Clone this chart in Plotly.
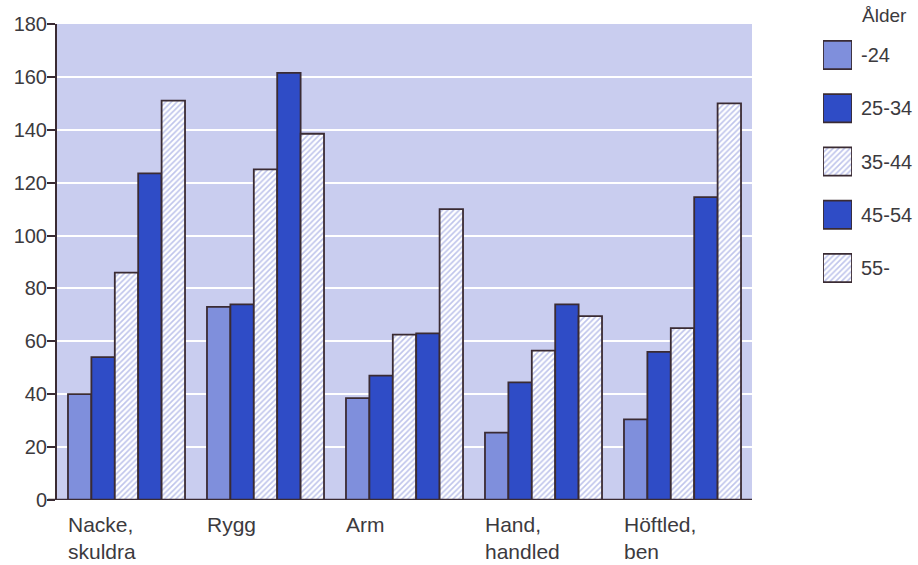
import plotly.graph_objects as go

# Data
categories = ['Nacke,<br>skuldra', 'Rygg', 'Arm', 'Hand,<br>handled', 'Höftled,<br>ben']
age_groups = ['-24', '25-34', '35-44', '45-54', '55-']

v_24 = [40, 73, 38.5, 25.5, 30.5]
v_25_34 = [54, 74, 47, 44.5, 56]
v_35_44 = [86, 125, 62.5, 56.5, 65]
v_45_54 = [123.5, 161.5, 63, 74, 114.5]
v_55 = [151, 138.5, 110, 69.5, 150]

series = [v_24, v_25_34, v_35_44, v_45_54, v_55]

y_ticks = list(range(0, 181, 20))

# styles
outline = '#3a2b33'
light_blue = '#7f8fdc'
strong_blue = '#2f4cc6'
hatch_blue = '#7f8ad8'
bg = '#c9cdef'
text_col = '#3c3a3e'
font_family = 'Liberation Sans, Arial, sans-serif'
fs = 20

hatch = dict(shape='/', fgcolor=hatch_blue, bgcolor='white', size=4, solidity=0.4)
styles = [
    dict(color=light_blue),
    dict(color=strong_blue),
    dict(color='white', pattern=hatch),
    dict(color=strong_blue),
    dict(color='white', pattern=hatch),
]

W, H = 918, 565
ml, mr, mt, mb = 57, 60, 24, 65
pw = W - ml - mr
ph = H - mt - mb

fig = go.Figure()

x_idx = list(range(len(categories)))
for name, vals, st in zip(age_groups, series, styles):
    fig.add_trace(go.Bar(
        x=x_idx, y=vals, name=name,
        marker=dict(line=dict(color=outline, width=1.8), **st),
        showlegend=False,
    ))

# legend swatches as bars on a small side axis, labels are its tick labels
for name, st in zip(age_groups, styles):
    fig.add_trace(go.Bar(
        x=[1], y=[name], orientation='h', width=0.53,
        xaxis='x2', yaxis='y2',
        marker=dict(line=dict(color=outline, width=1.8), **st),
        showlegend=False, hoverinfo='skip',
    ))

# category labels, left aligned under each group
for i, lab in enumerate(categories):
    fig.add_annotation(
        x=i, y=0, xref='x', yref='paper', text=lab,
        xanchor='left', yanchor='top', align='left',
        xshift=-61, yshift=-11, showarrow=False,
        font=dict(size=21, color=text_col, family=font_family),
    )

fig.add_annotation(
    x=(860 - ml) / pw, y=1 + (mt - 3) / ph,
    xref='paper', yref='paper', text='Ålder', showarrow=False,
    xanchor='left', yanchor='top',
    font=dict(size=19, color=text_col, family=font_family),
)

dom_main = 695 / pw

fig.add_shape(type='rect', xref='x domain', yref='y domain', x0=0, x1=1, y0=0, y1=1,
              fillcolor=bg, line_width=0, layer='below')

fig.update_layout(
    width=W, height=H,
    margin=dict(l=ml, r=mr, t=mt, b=mb),
    paper_bgcolor='white', plot_bgcolor='white',
    barmode='group', bargap=0.158, bargroupgap=0,
    font=dict(family=font_family, size=fs, color=text_col),
    xaxis=dict(domain=[0, dom_main], range=[-0.5, len(categories) - 0.5], automargin=False,
               showticklabels=False, ticks='', showgrid=False, zeroline=False,
               showline=False),
    yaxis=dict(range=[0, 180], tickvals=y_ticks, showgrid=True, gridcolor='white',
               gridwidth=2, zeroline=False, showline=True, linecolor=outline, linewidth=2,
               ticks='outside', ticklen=8, tickwidth=2, tickcolor=outline, automargin=False,
               ticklabelstandoff=-4, tickfont=dict(size=fs, color=text_col)),
    xaxis2=dict(domain=[(823 - ml) / pw, (852 - ml) / pw], range=[0, 1], anchor='y2',
                automargin=False, showticklabels=False, showgrid=False, zeroline=False,
                showline=False),
    yaxis2=dict(domain=[1 - (294.7 - mt) / ph, 1 - (28.3 - mt) / ph],
                anchor='x2', side='right', autorange='reversed', showgrid=False,
                automargin=False, zeroline=False, showline=False, ticks='',
                ticklabelstandoff=8, tickfont=dict(size=fs, color=text_col)),
)

# x axis baseline extending under the y ticks
fig.add_shape(type='line', xref='paper', yref='y', x0=-9 / pw, x1=dom_main, y0=0, y1=0,
              line=dict(color=outline, width=2.5))

fig.write_html("out.html", config={'displayModeBar': False},
               post_script="document.body.style.margin='0';")
